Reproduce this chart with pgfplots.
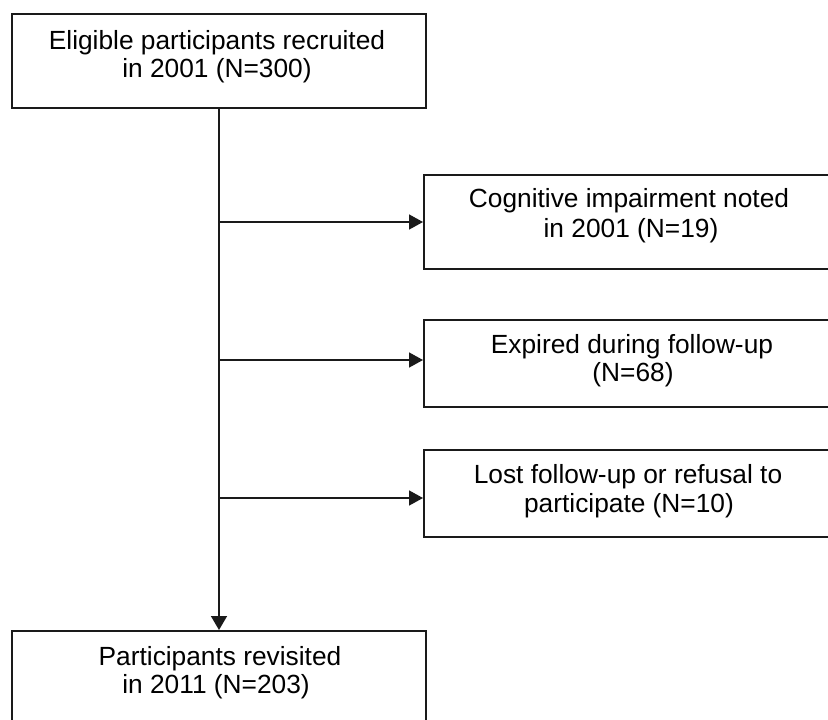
\documentclass[border=0pt]{standalone}
\usepackage{pgfplots}
\pgfplotsset{compat=1.18}
\usepackage{fontspec}
\setmainfont{Liberation Sans}
\usetikzlibrary{arrows.meta}
\definecolor{ink}{HTML}{1A1A1A}
\newcommand\bodyfont{\fontsize{26.3bp}{28.5bp}\selectfont}
\begin{document}
\begin{tikzpicture}
\begin{axis}[at={(0,0)}, anchor=south west,
  width=828bp, height=720bp, scale only axis,
  xmin=0, xmax=828, ymin=0, ymax=720, y dir=reverse,
  hide axis, clip=false]
% boxes
\addplot[draw=ink, line width=2.2bp, line join=miter] coordinates {(12,14) (426,14) (426,108) (12,108)} --cycle;
\addplot[draw=ink, line width=2.2bp, line join=miter] coordinates {(424,175) (834,175) (834,269) (424,269)} --cycle;
\addplot[draw=ink, line width=2.2bp, line join=miter] coordinates {(424,320) (834,320) (834,407) (424,407)} --cycle;
\addplot[draw=ink, line width=2.2bp, line join=miter] coordinates {(424,450) (834,450) (834,537) (424,537)} --cycle;
\addplot[draw=ink, line width=2.2bp, line join=miter] coordinates {(12,631) (426,631) (426,740) (12,740)} --cycle;
% connectors
\addplot[draw=ink, line width=1.5bp, -{Triangle[length=14bp,width=16bp]}] coordinates {(219,108) (219,630)};
\addplot[draw=ink, line width=1.5bp, -{Triangle[length=14bp,width=15bp]}] coordinates {(219,222) (423,222)};
\addplot[draw=ink, line width=1.5bp, -{Triangle[length=14bp,width=15bp]}] coordinates {(219,360) (423,360)};
\addplot[draw=ink, line width=1.5bp, -{Triangle[length=14bp,width=15bp]}] coordinates {(219,498) (423,498)};
% texts
\node[anchor=base, font=\bodyfont, text=black, inner sep=0pt] at (axis cs:217,49) {Eligible participants recruited};
\node[anchor=base, font=\bodyfont, text=black, inner sep=0pt] at (axis cs:217,77) {in 2001 (N=300)};
\node[anchor=base, font=\bodyfont, text=black, inner sep=0pt] at (axis cs:629,207) {Cognitive impairment noted};
\node[anchor=base, font=\bodyfont, text=black, inner sep=0pt] at (axis cs:631,237) {in 2001 (N=19)};
\node[anchor=base, font=\bodyfont, text=black, inner sep=0pt] at (axis cs:632,353) {Expired during follow-up};
\node[anchor=base, font=\bodyfont, text=black, inner sep=0pt] at (axis cs:633,381) {(N=68)};
\node[anchor=base, font=\bodyfont, text=black, inner sep=0pt] at (axis cs:628,483) {Lost follow-up or refusal to};
\node[anchor=base, font=\bodyfont, text=black, inner sep=0pt] at (axis cs:629,512) {participate (N=10)};
\node[anchor=base, font=\bodyfont, text=black, inner sep=0pt] at (axis cs:220,665) {Participants revisited};
\node[anchor=base, font=\bodyfont, text=black, inner sep=0pt] at (axis cs:216,693) {in 2011 (N=203)};
\end{axis}
\pgfresetboundingbox
\useasboundingbox (0,0) rectangle (828bp,720bp);
\end{tikzpicture}
\end{document}
